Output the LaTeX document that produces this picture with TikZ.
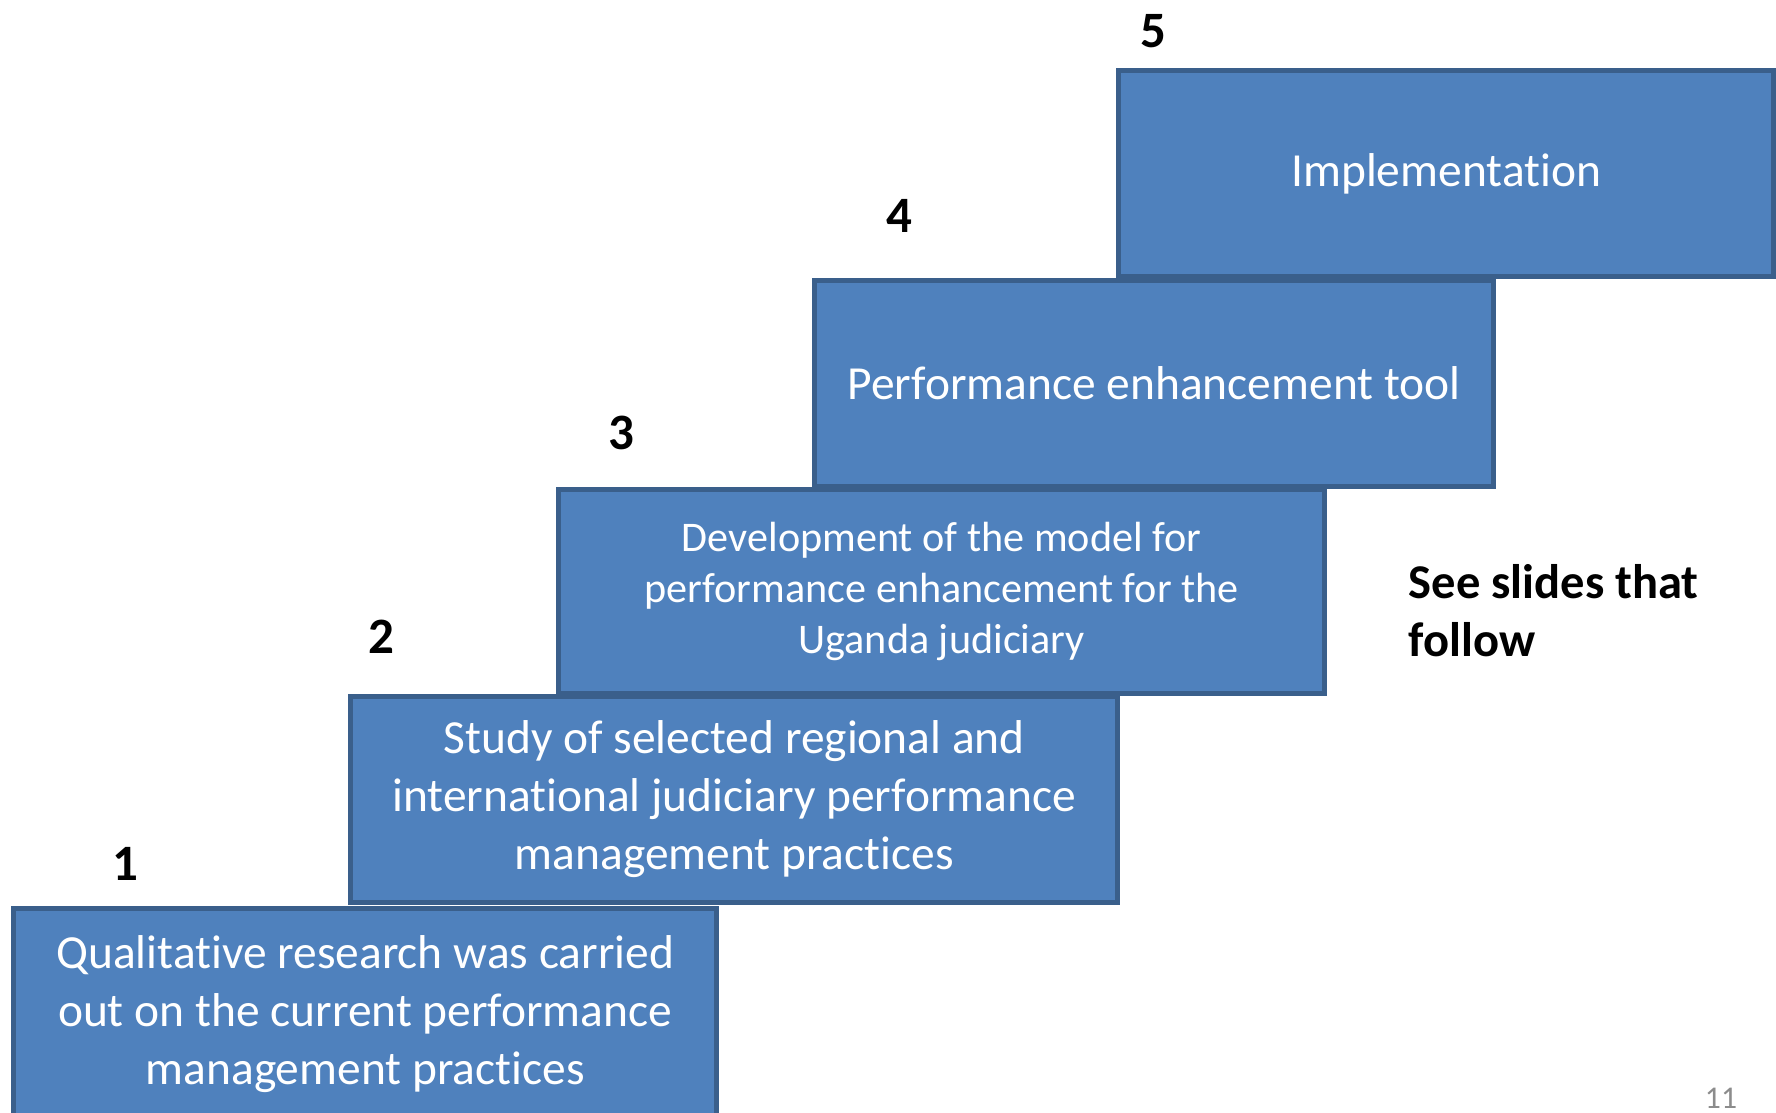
\documentclass[tikz,border=0pt]{standalone}
\usepackage{fontspec}
\setmainfont[Ligatures={NoCommon,NoContextual},Contextuals=NoAlternate]{Carlito}
\definecolor{stepfill}{HTML}{4F81BD}
\definecolor{stepline}{HTML}{3A5F8B}
\definecolor{pagenum}{HTML}{8C8C8C}
\begin{document}
\begin{tikzpicture}[x=0.01cm,y=-0.01cm,
    stepbox/.style={draw=stepline,fill=stepfill,line width=1.4pt,anchor=north west,
        text=white,align=center,inner sep=0pt,font=\fontsize{13.5}{16.5}\selectfont},
    stepnum/.style={font=\bfseries\fontsize{14.5}{17}\selectfont}]
    \useasboundingbox (0,0) rectangle (1776,1113);
    % steps, top one first so the lower ones lie over it
    \node[stepbox,minimum width=6.55cm,minimum height=2.06cm] (s5) at (1116,68) {Implementation};
    \node[stepbox,minimum width=6.79cm,minimum height=2.06cm] (s4) at (812,278) {Performance enhancement tool};
    \node[stepbox,minimum width=7.66cm,minimum height=2.04cm,font=\fontsize{12}{14.5}\selectfont] (s3) at (556,487)
        {Development of the model for\\performance enhancement for the\\Uganda judiciary};
    \node[stepbox,minimum width=7.67cm,minimum height=2.06cm] (s2) at (348,694)
        {Study of selected regional and\\international judiciary performance\\management practices};
    \node[stepbox,minimum width=7.03cm,minimum height=2.12cm] (s1) at (11,906)
        {Qualitative research was carried\\out on the current performance\\management practices};
    % step numbers
    \node[stepnum] (n1) at (125,864) {1};
    \node[stepnum] (n2) at (381,637) {2};
    \node[stepnum] (n3) at (621,433) {3};
    \node[stepnum] (n4) at (899,216) {4};
    \node[stepnum] (n5) at (1153,31) {5};
    % note and page number
    \node[font=\bfseries\fontsize{13.8}{16.5}\selectfont,align=left,anchor=west,inner sep=0pt] (note) at (1408,611)
        {See slides that\\follow};
    \node[text=pagenum,font=\fontsize{9}{11}\selectfont] (page) at (1721,1098) {11};
\end{tikzpicture}
\end{document}
